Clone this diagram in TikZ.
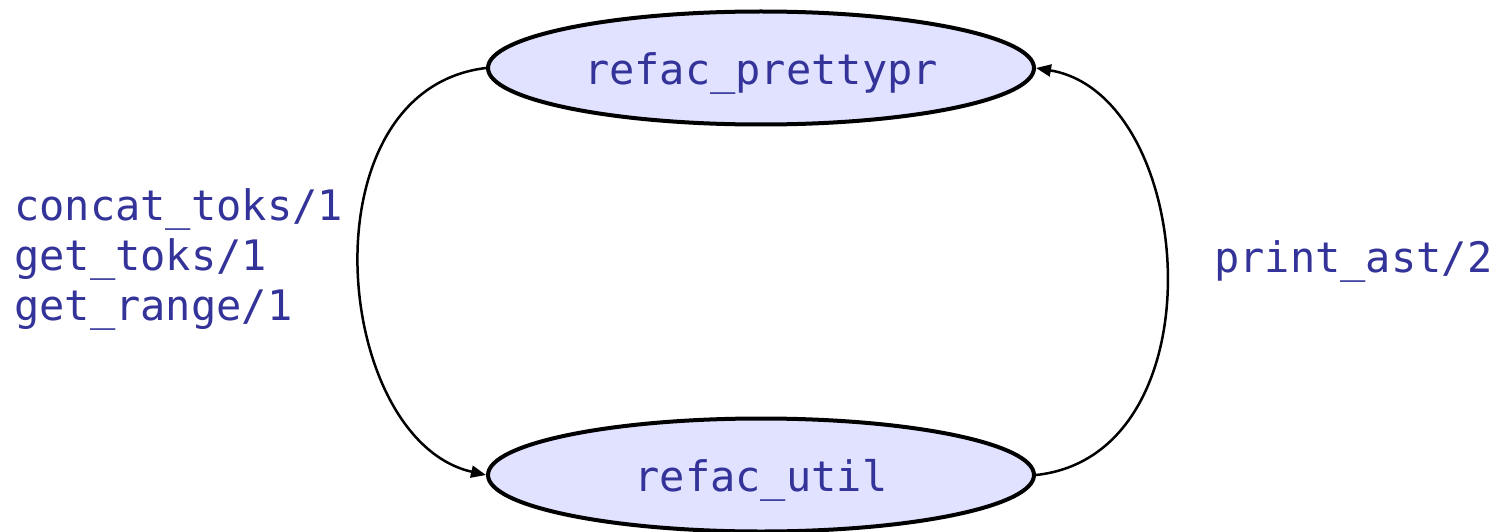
\documentclass[tikz,border=0pt]{standalone}
\usepackage{fontspec}
\newfontfamily\codefont{DejaVu Sans Mono}
\usetikzlibrary{arrows.meta,shapes.geometric}
\definecolor{labelblue}{RGB}{51,51,153}
\definecolor{modfill}{RGB}{224,226,255}
\newcommand{\modname}[1]{\raisebox{-5pt}[\height][\depth]{#1}}
\tikzset{
  module/.style={ellipse, draw=black, line width=4, fill=modfill,
    minimum width=546, minimum height=113, inner sep=0,
    text=labelblue, font=\codefont\fontsize{42}{50}\selectfont},
  calls/.style={draw=black, line width=2.5,
    -{Stealth[length=15, width=12, inset=0]}},
  callnames/.style={inner sep=0, text=labelblue, align=left,
    font=\codefont\fontsize{42}{50}\selectfont}
}
\begin{document}
\begin{tikzpicture}[x=1pt, y=-1pt]
  \useasboundingbox (0,0) rectangle (1501,532);
  % modules
  \node[module] (pp) at (761,68) {\modname{refac\_prettypr}};
  \node[module] (ut) at (761,475) {\modname{refac\_util}};
  % dependency arcs
  \draw[calls] (pp.west) .. controls (302,90) and (332,440) .. (ut.west);
  \draw[calls] (ut.east) .. controls (1222,455) and (1197,95) .. (pp.east);
  % imported functions
  \node[callnames, anchor=west] (lnames) at (14,259)
    {concat\_toks/1\\get\_toks/1\\get\_range/1};
  \node[callnames, anchor=west] (rnames) at (1214,261) {print\_ast/2};
\end{tikzpicture}
\end{document}
